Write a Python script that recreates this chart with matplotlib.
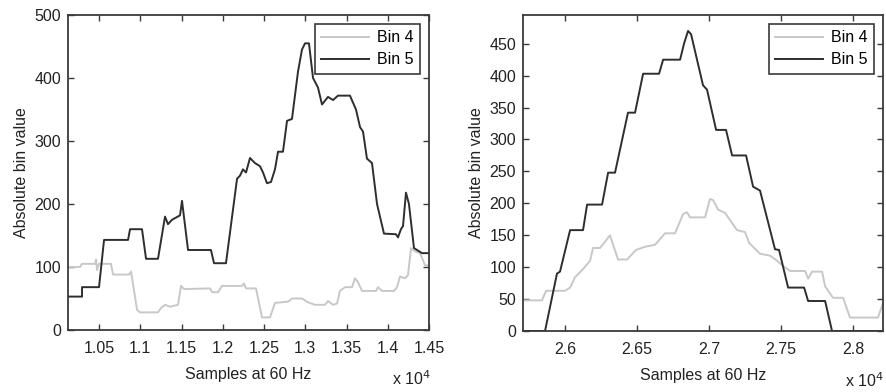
import numpy as np
import matplotlib
matplotlib.use("Agg")
import matplotlib.pyplot as plt
from matplotlib.ticker import MultipleLocator, FuncFormatter

plt.rcParams['font.family'] = ['Liberation Sans', 'DejaVu Sans']

# left panel (samples, value)
left_bin5_x = [10124, 10294, 10294, 10500, 10561, 10852, 10876, 11021, 11070, 11215,
               11300, 11336, 11385, 11482, 11506, 11579, 11857, 11894, 12039, 12173,
               12209, 12245, 12282, 12330, 12390, 12451, 12488, 12536, 12585, 12633,
               12670, 12730, 12779, 12839, 12912, 12960, 12997, 13045, 13094, 13154,
               13203, 13276, 13336, 13397, 13542, 13615, 13664, 13700, 13748, 13809,
               13870, 13954, 14100, 14124, 14160, 14185, 14221, 14257, 14318, 14379,
               14415, 14500]
left_bin5_y = [53, 53, 68, 68, 143, 143, 160, 160, 113, 113,
               180, 168, 175, 182, 205, 127, 127, 106, 106, 240,
               245, 255, 250, 273, 265, 260, 250, 233, 235, 255,
               283, 283, 332, 335, 410, 445, 455, 455, 400, 385,
               358, 370, 365, 372, 372, 350, 322, 315, 272, 265,
               200, 153, 152, 147, 160, 165, 218, 200, 130, 125,
               122, 122]

left_bin4_x = [10124, 10270, 10294, 10451, 10464, 10476, 10500, 10645, 10670, 10864,
               10888, 10961, 10997, 11215, 11251, 11300, 11360, 11457, 11494, 11530,
               11845, 11870, 11942, 11990, 12233, 12257, 12282, 12403, 12476, 12573,
               12633, 12791, 12839, 12960, 13033, 13118, 13239, 13276, 13336, 13385,
               13421, 13482, 13567, 13603, 13639, 13688, 13857, 13882, 13930, 14076,
               14112, 14148, 14209, 14245, 14282, 14330, 14391, 14451, 14500]
left_bin4_y = [100, 100, 105, 105, 112, 95, 105, 105, 88, 88,
               93, 32, 28, 28, 35, 40, 37, 40, 70, 65,
               66, 60, 60, 70, 70, 74, 66, 66, 20, 20,
               43, 45, 50, 50, 44, 40, 40, 46, 40, 42,
               62, 68, 68, 82, 76, 62, 62, 68, 62, 62,
               68, 85, 82, 87, 130, 125, 122, 103, 102]

# right panel
right_bin5_x = [25708, 25861, 25944, 25965, 26035, 26125, 26153, 26257, 26299, 26347,
                26437, 26486, 26542, 26653, 26681, 26799, 26826, 26854, 26875, 26958,
                26986, 27049, 27118, 27160, 27257, 27306, 27354, 27458, 27486, 27549,
                27660, 27688, 27806, 27854, 28208]
right_bin5_y = [0, 0, 90, 93, 158, 158, 198, 198, 248, 248,
                342, 342, 403, 403, 425, 425, 450, 470, 465, 385,
                378, 315, 315, 275, 275, 226, 220, 128, 127, 68,
                68, 47, 47, 0, 0]

right_bin4_x = [25708, 25840, 25868, 26000, 26035, 26069, 26125, 26174, 26194, 26243,
                26285, 26312, 26368, 26431, 26493, 26556, 26625, 26694, 26764, 26819,
                26847, 26868, 26972, 27007, 27028, 27063, 27111, 27194, 27250, 27278,
                27354, 27424, 27472, 27514, 27563, 27667, 27688, 27715, 27785, 27806,
                27861, 27931, 27979, 28173, 28208]
right_bin4_y = [48, 48, 63, 63, 68, 84, 97, 110, 130, 130,
                142, 150, 112, 112, 127, 132, 135, 153, 153, 183,
                186, 178, 178, 207, 205, 190, 185, 158, 155, 138,
                121, 118, 110, 102, 94, 94, 82, 93, 93, 70,
                52, 52, 21, 21, 44]

labels = ['Bin 4', 'Bin 5']
c4 = '#c8c8c8'
c5 = '#2e2e2e'
frame = '#3a3a3a'
txt = '#222222'
fs = 11.5

fig = plt.figure(figsize=(8.87, 3.92), dpi=100)
ax1 = fig.add_axes([68/887, 1-330/392, 361/887, 315/392])
ax2 = fig.add_axes([523/887, 1-331/392, 360/887, 316/392])

panels = [
    (ax1, left_bin4_x, left_bin4_y, left_bin5_x, left_bin5_y, (10124, 14500), (0, 500), 100),
    (ax2, right_bin4_x, right_bin4_y, right_bin5_x, right_bin5_y, (25708, 28208), (0, 495), 50),
]

for ax, x4, y4, x5, y5, xl, yl, ystep in panels:
    ax.plot(x4, y4, color=c4, lw=1.4, label=labels[0])
    ax.plot(x5, y5, color=c5, lw=1.4, label=labels[1])
    ax.set_xlim(*xl)
    ax.set_ylim(*yl)
    ax.xaxis.set_major_locator(MultipleLocator(500))
    ax.yaxis.set_major_locator(MultipleLocator(ystep))
    ax.xaxis.set_major_formatter(FuncFormatter(lambda v, p: '%g' % round(v / 1e4, 4)))
    ax.tick_params(direction='in', top=True, right=True, length=4, width=1,
                   color=frame, labelsize=fs, labelcolor=txt)
    ax.tick_params(axis='x', pad=8)
    ax.tick_params(axis='y', pad=5)
    for s in ax.spines.values():
        s.set_color(frame)
        s.set_linewidth(1.3)
    ax.set_xlabel('Samples at 60 Hz', fontsize=fs, color=txt, labelpad=8)
    ax.set_ylabel('Absolute bin value', fontsize=fs, color=txt, labelpad=4)
    leg = ax.legend(loc='upper right', fancybox=False, framealpha=1, fontsize=fs,
                    handlelength=3.0, borderaxespad=0.55, borderpad=0.4,
                    labelspacing=0.45, handletextpad=0.5)
    leg.get_frame().set_edgecolor(frame)
    leg.get_frame().set_linewidth(1.2)

# exponent labels below each x axis
fig.text(431/887, 4/392, 'x 10$^4$', ha='right', va='bottom', fontsize=fs, color=txt)
fig.text(884/887, 2/392, 'x 10$^4$', ha='right', va='bottom', fontsize=fs, color=txt)

fig.savefig('out.png', dpi=100)
